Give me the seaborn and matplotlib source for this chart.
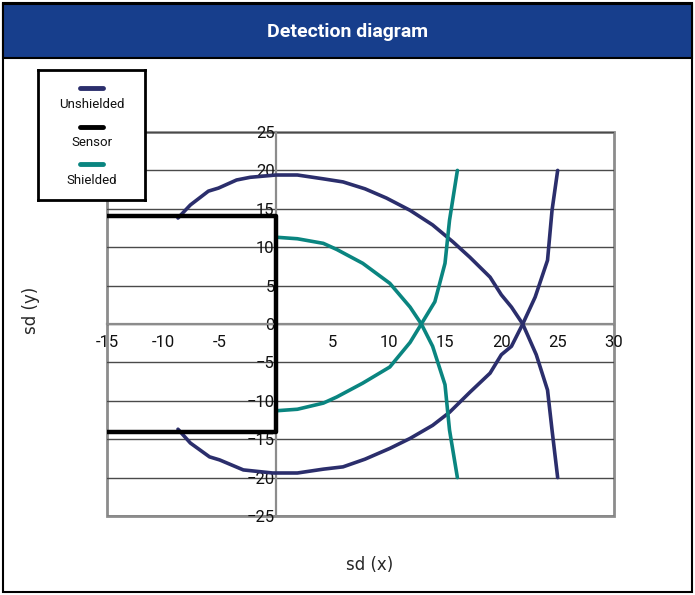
import pandas as pd
import matplotlib
matplotlib.use("Agg")
import matplotlib.pyplot as plt
from matplotlib.patches import Rectangle
import seaborn as sns

# detection curves (x, y in sd units)
unshielded_arc_x = [-8.7, -7.6, -6.0, -5.1, -3.5, -2.3, 0.0, 1.9, 4.2, 5.95, 7.9, 9.8, 11.9, 13.9, 15.7, 17.2, 19.0, 20.0, 20.9, 21.9,
                    20.9, 20.0, 19.0, 17.2, 15.4, 13.9, 11.9, 10.1, 7.9, 5.95, 4.2, 1.9, -0.3, -2.9, -5.0, -5.9, -7.6, -8.7]
unshielded_arc_y = [13.8, 15.5, 17.3, 17.7, 18.75, 19.1, 19.4, 19.4, 18.9, 18.5, 17.6, 16.4, 14.8, 12.9, 10.7, 8.7, 6.1, 3.8, 2.2, 0.0,
                    -2.9, -4.0, -6.4, -8.9, -11.5, -13.2, -14.9, -16.2, -17.6, -18.6, -18.9, -19.4, -19.4, -19.0, -17.7, -17.3, -15.5, -13.7]

unshielded_edge_x = [25.0, 24.5, 24.1, 23.0, 21.9, 23.1, 24.1, 24.5, 25.0]
unshielded_edge_y = [20.0, 14.8, 8.3, 3.5, 0.0, -4.0, -8.6, -13.8, -20.0]

shielded_arc_x = [0.0, 1.9, 4.2, 5.4, 7.7, 10.1, 11.9, 12.9, 11.9, 10.1, 7.7, 5.4, 4.2, 1.9, 0.0]
shielded_arc_y = [11.3, 11.1, 10.5, 9.7, 7.9, 5.3, 2.2, 0.0, -2.4, -5.6, -7.7, -9.5, -10.3, -11.1, -11.3]

shielded_edge_x = [16.1, 15.4, 15.0, 14.1, 12.9, 13.9, 15.0, 15.4, 16.1]
shielded_edge_y = [20.0, 13.5, 7.9, 2.9, 0.0, -2.9, -7.9, -13.8, -20.0]

sensor_x = [-15, 0, 0, -15]
sensor_y = [14, 14, -14, -14]

series_names = ["Unshielded", "Sensor", "Shielded"]
colors = {"Unshielded": "#2b2e6c", "Sensor": "#000000", "Shielded": "#0a8580"}

def seg(name, part, xs, ys):
    return pd.DataFrame({"x": xs, "y": ys, "series": name, "part": part})

df = pd.concat([
    seg("Unshielded", "u1", unshielded_arc_x, unshielded_arc_y),
    seg("Unshielded", "u2", unshielded_edge_x, unshielded_edge_y),
    seg("Shielded", "s1", shielded_arc_x, shielded_arc_y),
    seg("Shielded", "s2", shielded_edge_x, shielded_edge_y),
], ignore_index=True)
sensor_df = seg("Sensor", "k", sensor_x, sensor_y)

sns.set_theme(style="white")
narrow = ["Liberation Sans Narrow", "Roboto", "DejaVu Sans"]

fig = plt.figure(figsize=(6.95, 5.95), dpi=100)

# outer frame + title bar
W, H = 695, 595
fig.patches.append(Rectangle((3 / W, 3 / H), 689 / W, 589 / H, transform=fig.transFigure,
                             fill=False, edgecolor="black", lw=1.5))
fig.patches.append(Rectangle((3 / W, (H - 58) / H), 689 / W, 54 / H, transform=fig.transFigure,
                             facecolor="#173e8c", edgecolor="black", lw=1.5))
fig.text(0.5, (H - 32) / H, "Detection diagram", color="white", fontsize=14, fontweight="bold",
         family=narrow, ha="center", va="center")

ax = fig.add_axes([107 / W, (H - 516) / H, 507 / W, 384 / H])
sns.lineplot(data=df, x="x", y="y", hue="series", units="part", estimator=None, sort=False,
             palette=colors, lw=2.6, legend=False, ax=ax, zorder=3)
sns.lineplot(data=sensor_df, x="x", y="y", sort=False, estimator=None, color="black", lw=3.2,
             ax=ax, zorder=4, solid_capstyle="projecting")

ax.set_xlim(-15, 30)
ax.set_ylim(-25, 25)
ax.set_xticks(range(-15, 31, 5))
ax.set_xticklabels(["" if v == 0 else str(v) for v in range(-15, 31, 5)])
ax.set_yticks(range(-25, 26, 5))
ax.yaxis.grid(True, color="#4a4a4a", lw=1)
ax.set_axisbelow(True)

for s in ["top", "right"]:
    ax.spines[s].set_visible(False)
ax.spines["left"].set_position(("data", 0))
ax.spines["bottom"].set_position(("data", 0))
for s in ["left", "bottom"]:
    ax.spines[s].set_color("#8c8c8c")
    ax.spines[s].set_linewidth(1.6)
ax.patch.set_edgecolor("#8c8c8c")
ax.patch.set_linewidth(2)

ax.tick_params(axis="x", direction="out", length=4, width=1.2, color="#8c8c8c", pad=4, labelsize=12)
ax.tick_params(axis="y", length=0, pad=1, labelsize=12)
for lab in ax.get_xticklabels() + ax.get_yticklabels():
    lab.set_family(narrow)
    lab.set_color("#111111")

ax.set_xlabel("sd (x)", fontsize=12, family="DejaVu Sans")
ax.set_ylabel("sd (y)", fontsize=12, family="DejaVu Sans")
ax.xaxis.set_label_coords((370 - 107) / 507, (516 - 556) / 384)
ax.yaxis.set_label_coords((40 - 107) / 507, (516 - 310) / 384)

# legend box: short line with its label underneath
lg = fig.add_axes([38 / W, (H - 200) / H, 107 / W, 130 / H])
lg.set_xlim(0, 1)
lg.set_ylim(1, 0)
lg.set_xticks([])
lg.set_yticks([])
for s in lg.spines.values():
    s.set_color("black")
    s.set_linewidth(2)
line_rows = [18 / 130, 57 / 130, 94 / 130]
text_rows = [35 / 130, 72 / 130, 110 / 130]
for name, ly, ty in zip(series_names, line_rows, text_rows):
    lg.plot([0.39, 0.61], [ly, ly], color=colors[name], lw=3.5, solid_capstyle="round")
    lg.text(0.5, ty, name, ha="center", va="center", fontsize=9.5, family=narrow, color="#111111")

fig.savefig("out.png", dpi=100)
